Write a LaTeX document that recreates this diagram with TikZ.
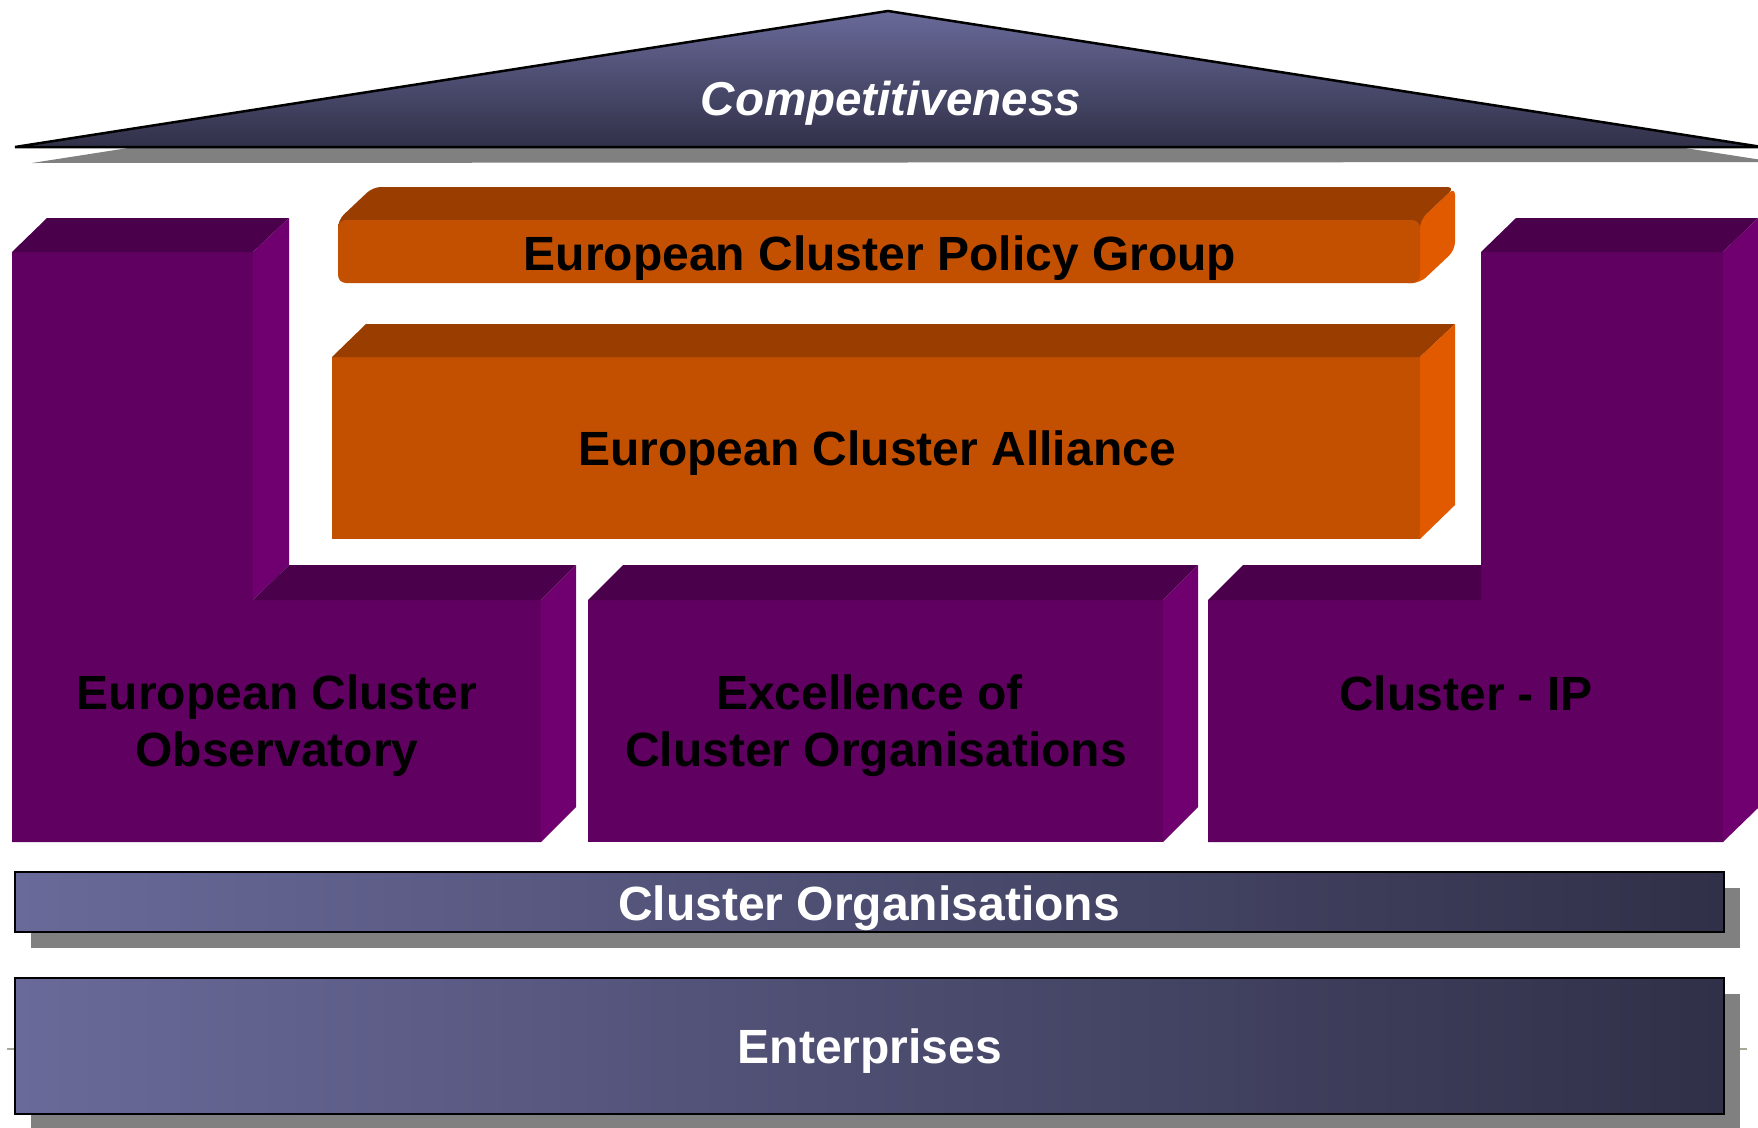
\documentclass[tikz,border=0pt]{standalone}
\usepackage{fontspec}
\setmainfont{Liberation Sans}
\definecolor{pfront}{RGB}{96,0,96}
\definecolor{ptop}{RGB}{75,0,75}
\definecolor{pside}{RGB}{112,0,112}
\definecolor{ofront}{RGB}{194,80,0}
\definecolor{otop}{RGB}{154,61,0}
\definecolor{oside}{RGB}{226,90,0}
\definecolor{navyL}{RGB}{106,106,154}
\definecolor{navyD}{RGB}{48,48,72}
\definecolor{shadowgray}{RGB}{128,128,128}
\definecolor{bgline}{RGB}{168,168,150}
\tikzset{
  lbl/.style={font=\bfseries\fontsize{48}{57}\selectfont, align=center, text=black, inner sep=0pt},
  wlbl/.style={lbl, text=white},
  roofl/.style={font=\bfseries\itshape\fontsize{47.5}{50}\selectfont, text=white, inner sep=0pt},
  frontP/.style={fill=pfront},
  topP/.style={fill=ptop},
  sideP/.style={fill=pside},
  frontO/.style={fill=ofront},
  topO/.style={fill=otop},
  sideO/.style={fill=oside},
  shadowbox/.style={fill=shadowgray},
  bar/.style={left color=navyL, right color=navyD, draw=black, line width=2.5pt}
}
\begin{document}
\begin{tikzpicture}[x=1pt,y=-1pt]
\useasboundingbox (0,0) rectangle (1758,1127);
% roof
\fill[shadowgray] (32,163) -- (905,27) -- (1775,162) -- cycle;
\draw[line width=2.5pt, top color=navyL, bottom color=navyD, line join=miter] (15,147) -- (888,11) -- (1762,147) -- cycle;
\node[roofl, anchor=base] (comp) at (891,115) {Competitiveness};
% left L-shaped block
\fill[frontP] (12,252) -- (253,252) -- (253,600) -- (541,600) -- (541,842) -- (12,842) -- cycle;
\fill[topP] (12,252) -- (47,218) -- (289,218) -- (253,252) -- cycle;
\fill[sideP] (253,252) -- (289,218) -- (289,565) -- (253,600) -- cycle;
\fill[topP] (253,600) -- (289,565) -- (576,565) -- (541,600) -- cycle;
\fill[sideP] (541,600) -- (576,565) -- (576,807) -- (541,842) -- cycle;
% middle block
\fill[frontP] (588,600) rectangle (1163,842);
\fill[topP] (588,600) -- (623,565) -- (1198,565) -- (1163,600) -- cycle;
\fill[sideP] (1163,600) -- (1198,565) -- (1198,807) -- (1163,842) -- cycle;
% right inverted-L block
\fill[frontP] (1208,600) -- (1481,600) -- (1481,252) -- (1723,252) -- (1723,842) -- (1208,842) -- cycle;
\fill[topP] (1208,600) -- (1243,565) -- (1481,565) -- (1481,600) -- cycle;
\fill[topP] (1481,252) -- (1516,218) -- (1758,218) -- (1723,252) -- cycle;
\fill[sideP] (1723,252) -- (1758,218) -- (1758,808) -- (1723,842) -- cycle;
% policy group box
\fill[sideO, rounded corners=8pt] (1400,220) -- (1420,220) -- (1455,187) -- (1455,250) -- (1420,283) -- (1400,283) -- cycle;
\fill[topO, rounded corners=8pt] (338,232) -- (338,220) -- (373,187) -- (1455,187) -- (1420,220) -- (1420,232) -- cycle;
\fill[frontO, rounded corners=8pt] (338,220) rectangle (1420,283);
% alliance box
\fill[frontO] (332,357) rectangle (1420,539);
\fill[topO] (332,357) -- (366,324) -- (1455,324) -- (1420,357) -- cycle;
\fill[sideO] (1420,357) -- (1455,324) -- (1455,505) -- (1420,539) -- cycle;
\node[lbl, anchor=base] (ecpg) at (880,270) {European Cluster Policy Group};
\node[lbl, anchor=base] (eca) at (877,465) {European Cluster Alliance};
\node[lbl] (eco) at (277,725.5) {European Cluster\\Observatory};
\node[lbl] (exc) at (876,725.5) {Excellence of\hspace*{13pt}\\Cluster Organisations};
\node[lbl, anchor=base] (cip) at (1466,710) {Cluster - IP};
% background line
\draw[bgline, line width=2pt] (7,1049) -- (1747,1049);
% cluster organisations bar
\fill[shadowbox] (31,888) rectangle (1740,948);
\draw[bar] (15,872) rectangle (1724,932);
\node[wlbl, anchor=base] (co) at (869,920) {Cluster Organisations};
% enterprises bar
\fill[shadowbox] (31,994) rectangle (1740,1130);
\draw[bar] (15,978) rectangle (1724,1114);
\node[wlbl, anchor=base] (ent) at (870,1063) {Enterprises};
\end{tikzpicture}
\end{document}
